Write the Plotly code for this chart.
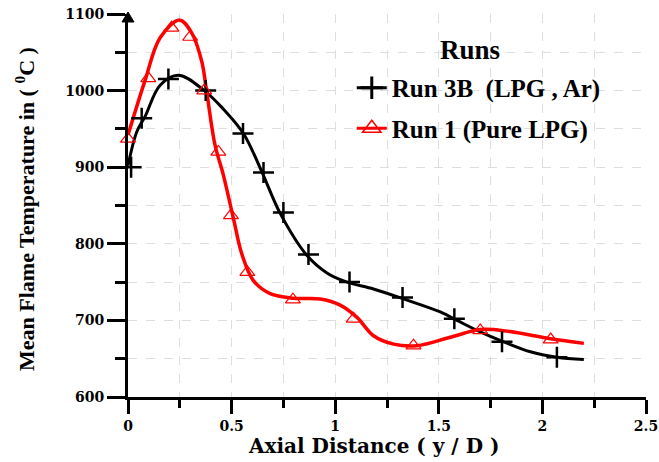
import plotly.graph_objects as go

# ---- data ----
run3b_x = [0.015, 0.066, 0.195, 0.375, 0.555, 0.654, 0.75, 0.871, 1.069, 1.325, 1.575, 1.805, 2.07]
run3b_y = [900, 964, 1015, 1000, 944, 893, 841, 786, 750, 730, 702, 672, 652]

run1_x = [0.0, 0.098, 0.21, 0.30, 0.368, 0.436, 0.497, 0.576, 0.796, 1.089, 1.378, 1.70, 2.04]
run1_y = [937, 1016, 1082, 1070, 1000, 920, 837, 763, 727, 702, 667, 687, 675]

# smooth fitted curves
fit3b_x = [0, 0.042, 0.082, 0.155, 0.243, 0.364, 0.46, 0.557, 0.646, 0.734, 0.863, 0.96,
           1.057, 1.185, 1.33, 1.507, 1.588, 1.70, 1.813, 1.942, 2.07, 2.2]
fit3b_y = [902, 946, 966, 1007, 1020, 1001, 976, 944, 894, 840, 785, 762,
           750, 741, 728, 711, 700, 685, 672, 659, 652, 649]

fit1_x = [0, 0.082, 0.155, 0.25, 0.308, 0.356, 0.38, 0.42, 0.46, 0.509, 0.549, 0.605, 0.686,
          0.799, 0.928, 1.024, 1.105, 1.185, 1.282, 1.395, 1.556, 1.70, 1.83, 2.04, 2.2]
fit1_y = [942, 1013, 1069, 1092, 1075, 1038, 998, 929, 890, 833, 787, 752, 735,
          729, 728, 720, 704, 680, 669, 667, 678, 688, 686, 676, 670]

names = ["Run 3B  (LPG , Ar)", "Run 1 (Pure LPG)"]
x_title = "Axial Distance ( y / D )"
y_title = "Mean Flame Temperature in ( <sup>0</sup>C )"
legend_title = "Runs"
x_tickvals = [0, 0.5, 1, 1.5, 2, 2.5]
x_ticktext = ["0", "0.5", "1", "1.5", "2", "2.5"]

FONT = "Liberation Serif"
WIDE = "DejaVu Serif"
RED = "#ff0000"

fig = go.Figure()

# fitted curves
fig.add_trace(go.Scatter(x=fit3b_x, y=fit3b_y, mode="lines",
                         line=dict(color="black", width=3, shape="spline", smoothing=1.0),
                         showlegend=False, hoverinfo="skip"))
fig.add_trace(go.Scatter(x=fit1_x, y=fit1_y, mode="lines",
                         line=dict(color=RED, width=3.5, shape="spline", smoothing=1.0),
                         showlegend=False, hoverinfo="skip"))

# markers
fig.add_trace(go.Scatter(x=run3b_x, y=run3b_y, mode="markers", showlegend=False,
                         cliponaxis=False,
                         marker=dict(symbol="cross-thin", size=15,
                                     line=dict(color="black", width=2.5))))
fig.add_trace(go.Scatter(x=run1_x, y=run1_y, mode="markers", showlegend=False,
                         cliponaxis=False,
                         marker=dict(symbol="triangle-up-open", size=13, color=RED,
                                     line=dict(color=RED, width=1.2))))

# legend entries
fig.add_trace(go.Scatter(x=[None], y=[None], mode="lines+markers", name=names[0],
                         legendgroup="a",
                         line=dict(color="black", width=3),
                         marker=dict(symbol="cross-thin", size=16,
                                     line=dict(color="black", width=3))))
fig.add_trace(go.Scatter(x=[None], y=[None], mode="lines+markers", name=names[1],
                         legendgroup="b",
                         line=dict(color=RED, width=3),
                         marker=dict(symbol="triangle-up-open", size=16, color=RED,
                                     line=dict(color=RED, width=1.5))))

axis_common = dict(
    showline=True, linecolor="black", linewidth=3,
    ticks="outside", tickcolor="black", tickwidth=3,
    showgrid=True, gridcolor="#dedede", griddash="dash", gridwidth=1,
    zeroline=False, automargin=False,
)

fig.update_xaxes(range=[0, 2.5], ticklen=14,
                 tickvals=x_tickvals, ticktext=x_ticktext,
                 tickfont=dict(family=WIDE, size=14, color="black", weight="bold"),
                 minor=dict(dtick=0.25, tick0=0, ticks="outside", ticklen=8, tickwidth=3,
                            tickcolor="black", showgrid=True, gridcolor="#dedede",
                            griddash="dash", gridwidth=1),
                 **axis_common)
fig.update_yaxes(range=[600, 1100], dtick=100, tick0=600, ticklen=18,
                 tickfont=dict(family=WIDE, size=14, color="black", weight="bold"),
                 minor=dict(dtick=50, ticks="outside", ticklen=10, tickwidth=3,
                            tickcolor="black", showgrid=True, gridcolor="#dedede",
                            griddash="dash", gridwidth=1),
                 **axis_common)

fig.update_layout(
    width=659, height=462,
    margin=dict(l=128, r=13, t=14, b=65),
    paper_bgcolor="white", plot_bgcolor="white",
    font=dict(family=FONT, color="black"),
    legend=dict(
        x=0.432, y=0.867, xanchor="left", yanchor="top",
        bgcolor="rgba(0,0,0,0)", borderwidth=0,
        font=dict(family=FONT, size=25, color="black", weight="bold"),
        tracegroupgap=5,
    ),
    annotations=[
        dict(text=legend_title, xref="paper", yref="paper", x=0.66, y=0.906,
             xanchor="center", yanchor="middle", showarrow=False,
             font=dict(family=FONT, size=27, color="black", weight="bold")),
        dict(text=x_title, xref="paper", yref="paper", x=0.473, y=-0.128,
             xanchor="center", yanchor="middle", showarrow=False,
             font=dict(family=WIDE, size=20, color="black", weight="bold")),
        dict(text=y_title, xref="paper", yref="paper", x=-0.2, y=0.492,
             xanchor="center", yanchor="middle", showarrow=False, textangle=-90,
             font=dict(family=FONT, size=22, color="black", weight="bold")),
    ],
    shapes=[
        dict(type="path", xref="paper", yref="paper", xsizemode="pixel", ysizemode="pixel",
             xanchor=0, yanchor=1, path="M-6,-8 L6,-8 L0,2 Z",
             fillcolor="black", line=dict(color="black", width=1)),
    ],
)

fig.write_html("out.html")
